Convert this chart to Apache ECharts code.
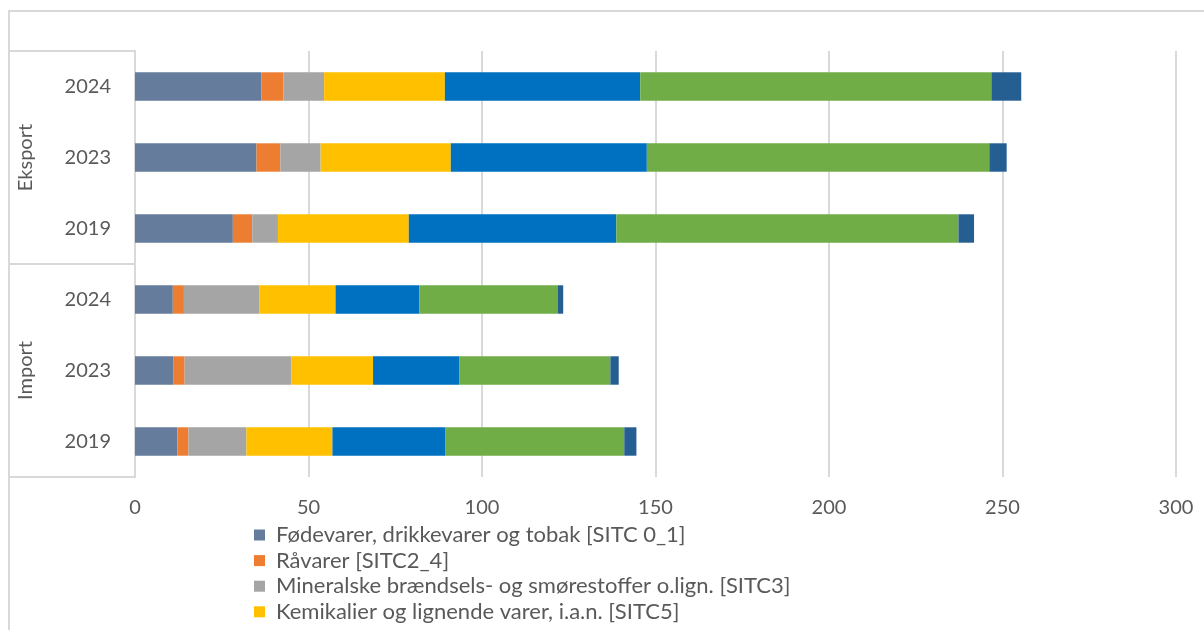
<!DOCTYPE html>
<html>
<head>
<meta charset="utf-8">
<script src="https://cdn.jsdelivr.net/npm/echarts@6/dist/echarts.min.js"></script>
<style>
html,body{margin:0;padding:0;background:#fff;}
#frame{position:absolute;left:8px;top:10px;width:1300px;height:700px;border-left:2px solid #d9d9d9;border-top:2px solid #d9d9d9;box-sizing:border-box;}
#chart{position:absolute;left:0;top:0;width:1204px;height:630px;}
</style>
</head>
<body>
<div id="frame"></div>
<div id="chart"></div>
<script>
// Categories (bottom to top)
const groups = ['Import', 'Eksport'];
const categories = ['Import|2019', 'Import|2023', 'Import|2024', 'Eksport|2019', 'Eksport|2023', 'Eksport|2024'];

// Series values (same order as categories), mia. kr.
const foodValues     = [12.2, 11.0, 10.9, 28.2, 35.0, 36.4];
const rawValues      = [3.2, 3.3, 3.2, 5.6, 6.9, 6.4];
const mineralValues  = [16.7, 30.8, 21.8, 7.4, 11.6, 11.7];
const chemValues     = [24.8, 23.5, 21.9, 37.7, 37.5, 34.8];
const manufValues    = [32.6, 24.8, 24.1, 59.8, 56.5, 56.3];
const machineValues  = [51.5, 43.6, 40.0, 98.6, 98.7, 101.2];
const miscValues     = [3.5, 2.4, 1.5, 4.5, 5.0, 8.6];

const seriesNames = [
  'Fødevarer, drikkevarer og tobak [SITC 0_1]',
  'Råvarer [SITC2_4]',
  'Mineralske brændsels- og smørestoffer o.lign. [SITC3]',
  'Kemikalier og lignende varer, i.a.n. [SITC5]',
  'Bearbejdede varer, primært klassificeret efter materiale [SITC6]',
  'Maskiner og transportmidler [SITC7]',
  'Forskellige færdigvarer [SITC8]'
];
const legendNames = seriesNames.slice(0, 4);
const seriesData = [foodValues, rawValues, mineralValues, chemValues, manufValues, machineValues, miscValues];
const colors = ['#657C9C', '#ED7D31', '#A5A5A5', '#FFC000', '#0070C0', '#70AD47', '#255E91'];

const xTicks = { min: 0, max: 300, interval: 50 };

const FONT = 'Lato';
const TXT = '#595959';
const GRID = '#d9d9d9';

const chart = echarts.init(document.getElementById('chart'));
chart.setOption({
  animation: false,
  textStyle: { fontFamily: FONT },
  color: colors,
  grid: { left: 135, right: 28, top: 51, bottom: 153, containLabel: false },
  legend: {
    data: legendNames,
    orient: 'vertical',
    left: 254,
    top: 524,
    padding: 0,
    itemWidth: 11,
    itemHeight: 11,
    itemGap: 3.6,
    icon: 'rect',
    textStyle: { fontFamily: FONT, fontSize: 22, color: TXT, lineHeight: 22, padding: [0, 0, 0, 6] }
  },
  xAxis: {
    type: 'value',
    min: xTicks.min, max: xTicks.max, interval: xTicks.interval,
    axisLine: { show: false },
    axisTick: { show: false },
    axisLabel: { color: TXT, fontSize: 20, fontFamily: FONT, margin: 21 },
    splitLine: { show: true, lineStyle: { color: GRID, width: 2 } }
  },
  yAxis: [
    {
      type: 'category',
      data: categories,
      axisLine: { show: true, lineStyle: { color: GRID, width: 2 } },
      axisTick: { show: false },
      axisLabel: {
        color: TXT, fontSize: 20, fontFamily: FONT, margin: 24,
        formatter: v => v.split('|')[1]
      },
      splitLine: { show: false }
    },
    {
      type: 'category',
      data: groups,
      position: 'left',
      offset: 126,
      axisLine: { show: true, lineStyle: { color: GRID, width: 2 } },
      axisTick: { show: true, inside: true, length: 127, lineStyle: { color: GRID, width: 2 } },
      axisLabel: { show: true, inside: true, rotate: 90, margin: 7, color: TXT, fontSize: 20, fontFamily: FONT },
      splitLine: { show: false }
    }
  ],
  series: seriesNames.map((name, i) => ({
    name: name,
    type: 'bar',
    stack: 'total',
    yAxisIndex: 0,
    barWidth: '40%',
    data: seriesData[i],
    itemStyle: { color: colors[i] }
  }))
});
</script>
</body>
</html>
